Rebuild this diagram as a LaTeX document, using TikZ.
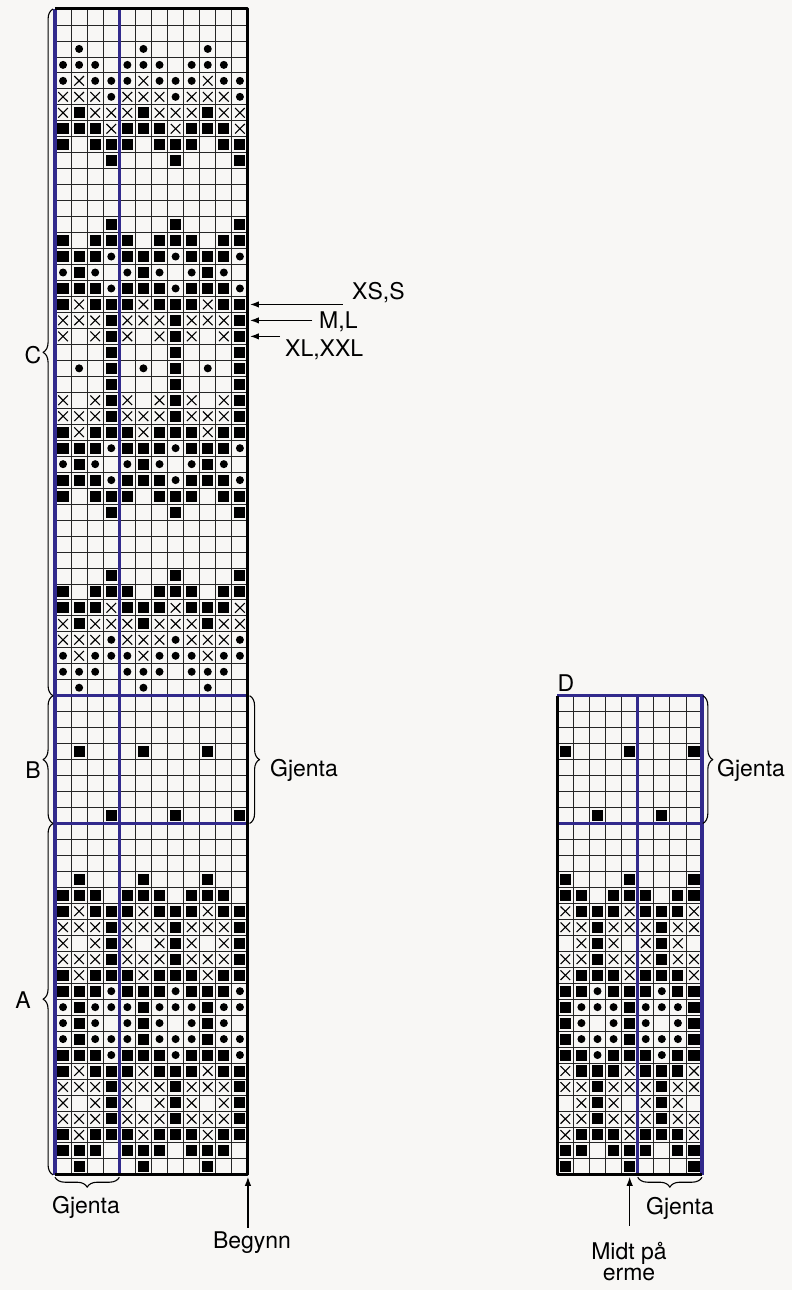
\documentclass[tikz,border=0pt]{standalone}
\usepackage{fontspec}
\setmainfont{TeX Gyre Heros}
\usetikzlibrary{arrows.meta, decorations.pathreplacing}

\definecolor{chartblue}{RGB}{50,42,140}
\definecolor{paper}{RGB}{248,247,245}

\tikzset{
  gridline/.style={line width=0.8pt, black!85},
  blueline/.style={line width=3.2pt, chartblue},
  edge/.style={line width=3pt},
  pointer/.style={line width=1.3pt, shorten >=2pt, -{Latex[length=9pt,width=6.5pt]}},
  brace/.style={decorate, decoration={brace, amplitude=10pt}, line width=1.1pt},
  lbl/.style={font=\fontsize{23}{21}\selectfont, inner sep=0pt},
  ks/.pic={\fill (-0.345,-0.345) rectangle (0.345,0.345);},
  kx/.pic={\draw[line width=1.1pt] (-0.3,-0.3) -- (0.3,0.3) (-0.3,0.3) -- (0.3,-0.3);},
  kd/.pic={\fill (0,0) circle[radius=4pt];},
  ko/.pic={}
}

\begin{document}
\begin{tikzpicture}[x=1pt, y=-1pt, line join=round]
\fill[paper] (0,0) rectangle (792,1290);
\useasboundingbox (0,0) rectangle (792,1290);

\begin{scope}[shift={(55,9)}, x=16.08pt, y=-15.97pt]
\foreach \col in {0,...,12} \draw[gridline] (\col,0) -- (\col,73);
\foreach \row in {0,...,73} \draw[gridline] (0,\row) -- (12,\row);
\foreach \pat [count=\row] in {
  {o,o,o,o},{o,o,o,o},{o,d,o,o},{d,d,d,o},{d,x,d,d},{x,x,x,d},{x,s,x,x},{s,s,s,x},
  {s,o,s,s},{o,o,o,s},{o,o,o,o},{o,o,o,o},{o,o,o,o},{o,o,o,s},{s,o,s,s},{s,s,s,d},
  {d,s,d,o},{s,s,s,d},{s,x,s,s},{x,x,x,s},{x,o,x,s},{o,o,o,s},{o,d,o,s},{o,o,o,s},
  {x,o,x,s},{x,x,x,s},{s,x,s,s},{s,s,s,d},{d,s,d,o},{s,s,s,d},{s,o,s,s},{o,o,o,s},
  {o,o,o,o},{o,o,o,o},{o,o,o,o},{o,o,o,s},{s,o,s,s},{s,s,s,x},{x,s,x,x},{x,x,x,d},
  {d,x,d,d},{d,d,d,o},{o,d,o,o},
  {o,o,o,o},{o,o,o,o},{o,o,o,o},{o,s,o,o},{o,o,o,o},{o,o,o,o},{o,o,o,o},{o,o,o,s},
  {o,o,o,o},{o,o,o,o},{o,o,o,o},{o,s,o,o},{s,s,s,o},{s,x,s,s},{x,x,x,s},{x,o,x,s},
  {x,x,x,s},{s,x,s,s},{s,s,s,d},{d,s,d,d},{d,s,d,o},{d,s,d,d},{s,s,s,d},{s,x,s,s},
  {x,x,x,s},{x,o,x,s},{x,x,x,s},{s,x,s,s},{s,s,s,o},{o,s,o,o}}
  \foreach \sym [count=\col] in \pat
    \foreach \rep in {0,4,8}
      \pic at ({\col+\rep-0.5},{\row-0.5}) {k\sym};
\draw[blueline] (0,0) -- (0,73) (4,0) -- (4,73) (0,43) -- (12,43) (0,51) -- (12,51);
\draw[edge] (0,0) -- (12,0) -- (12,73) -- (0,73);
\coordinate (topL) at (-0.12,0);
\coordinate (cb) at (-0.12,43);
\coordinate (ba) at (-0.12,51);
\coordinate (botL) at (-0.12,73);
\coordinate (bR1) at (12.1,43);
\coordinate (bR2) at (12.1,51);
\coordinate (gA1) at (4,73.15);
\coordinate (gA2) at (0,73.15);
\coordinate (start) at (12,73);
\coordinate (bt) at (12,76.3);
\coordinate (sz1) at (12,18.5);
\coordinate (sz2) at (12,19.5);
\coordinate (sz3) at (12,20.5);
\coordinate (tl1) at (17.9,18.5);
\coordinate (tl2) at (16,19.5);
\coordinate (tl3) at (14,20.5);
\end{scope}

\begin{scope}[shift={(557.3,695.7)}, x=16.08pt, y=-15.97pt]
\foreach \col in {0,...,9} \draw[gridline] (\col,0) -- (\col,30);
\foreach \row in {0,...,30} \draw[gridline] (0,\row) -- (9,\row);
\foreach \pat [count=\row] in {
  {o,o,o,o},{o,o,o,o},{o,o,o,o},{s,o,o,o},{o,o,o,o},{o,o,o,o},{o,o,o,o},{o,o,s,o},
  {o,o,o,o},{o,o,o,o},{o,o,o,o},{s,o,o,o},{s,s,o,s},{x,s,s,s},{x,x,s,x},{o,x,s,x},
  {x,x,s,x},{x,s,s,s},{s,s,d,s},{s,d,d,d},{s,d,o,d},{s,d,d,d},{s,s,d,s},{x,s,s,s},
  {x,x,s,x},{o,x,s,x},{x,x,s,x},{x,s,s,s},{s,s,o,s},{s,o,o,o}}
  \foreach \sym [count=\col] in \pat
    \foreach \rep in {0,4,8} {
      \pgfmathtruncatemacro\dcol{\col+\rep}
      \ifnum\dcol<10 \pic at ({\dcol-0.5},{\row-0.5}) {k\sym};\fi
    }
\draw[blueline] (0,0) -- (9,0) -- (9,30) (5,0) -- (5,30) (0,8) -- (9,8);
\draw[edge] (0,0) -- (0,30) -- (9,30);
\coordinate (dR1) at (9.05,0);
\coordinate (dR2) at (9.05,8);
\coordinate (dG1) at (9,30.15);
\coordinate (dG2) at (5,30.15);
\coordinate (mid) at (4.5,30);
\coordinate (mt) at (4.5,33.2);
\end{scope}

\draw[brace] (cb) -- (topL);
\draw[brace] (ba) -- (cb);
\draw[brace] (botL) -- (ba);
\draw[brace] (bR1) -- (bR2);
\draw[brace] (gA1) -- (gA2);
\draw[brace] (dR1) -- (dR2);
\draw[brace] (dG1) -- (dG2);
\draw[pointer] (tl1) -- (sz1);
\draw[pointer] (tl2) -- (sz2);
\draw[pointer] (tl3) -- (sz3);
\draw[pointer] (bt) -- (start);
\draw[pointer] (mt) -- (mid);

\node[lbl] (labC) at (33,355) {C};
\node[lbl] (labB) at (33,770) {B};
\node[lbl] (labA) at (23,1000) {A};
\node[lbl] (gjB) at (304,770) {Gjenta};
\node[lbl] (gjA) at (86,1207) {Gjenta};
\node[lbl] (begynn) at (252,1243) {Begynn};
\node[lbl, anchor=west] (xs) at (352,293) {XS,S};
\node[lbl, anchor=west] (ml) at (319,322) {M,L};
\node[lbl, anchor=west] (xl) at (285,350) {XL,XXL};
\node[lbl] (labD) at (566,683) {D};
\node[lbl, anchor=west] (gjD) at (717,770) {Gjenta};
\node[lbl] (gjD2) at (680,1208) {Gjenta};
\node[lbl, align=center] (midt) at (629,1262) {Midt på\\erme};
\end{tikzpicture}
\end{document}
